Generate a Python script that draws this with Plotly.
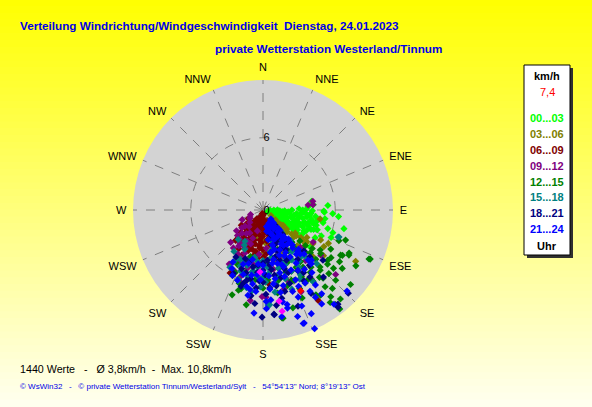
import plotly.graph_objects as go

# ---------------- data (direction in degrees, speed in km/h) ----------------
dir_labels = ["N", "NNE", "NE", "ENE", "E", "ESE", "SE", "SSE",
              "S", "SSW", "SW", "WSW", "W", "WNW", "NW", "NNW"]
dir_ticks = [0, 22.5, 45, 67.5, 90, 112.5, 135, 157.5,
             180, 202.5, 225, 247.5, 270, 292.5, 315, 337.5]
radial_ticks = [0, 6]
radial_max = 10.8

dir_00_03 = [92, 98, 105, 112, 118, 95, 101, 108, 115, 122, 90, 96, 103, 110, 117, 123,
             93, 99, 106, 113, 120, 91, 97, 104, 111, 89, 94, 100, 107, 114, 119, 102,
             109, 88, 96, 80, 84, 91, 95, 103, 99, 110, 86, 93, 106, 114, 98, 118, 125,
             112, 101, 96.5, 107, 104.6, 92, 102, 108, 86, 120, 128, 111, 119,
             90, 100, 110, 120, 93, 103, 116, 121, 97, 112, 106, 89, 101, 115, 124, 108, 95, 118,
             92, 97, 104, 109, 114, 119, 123, 100, 94, 106, 112, 117, 90, 99, 111]
spd_00_03 = [0.6, 0.9, 1.2, 0.8, 1.4, 1.6, 1.9, 2.1, 2.3, 1.8, 2.4, 2.8, 3.0, 3.2, 2.9, 2.6,
             3.4, 3.7, 3.9, 3.6, 3.3, 4.1, 4.4, 4.2, 4.5, 1.2, 2.1, 2.6, 1.5, 1.7, 2.2, 3.4,
             4.0, 3.0, 3.9, 4.1, 4.2, 5.05, 6.3, 6.9, 4.8, 4.8, 5.4, 5.8, 5.6, 5.3, 5.2, 4.9, 3.8,
             6.1, 4.6, 3.7, 3.66, 4.3, 5.1, 5.1, 6.1, 3.76, 3.85, 4.98, 0.4, 3.1,
             0.9, 0.5, 1.1, 0.9, 1.4, 1.6, 1.0, 2.8, 2.2, 2.7, 2.6, 3.6, 4.1, 4.0, 3.4, 3.5, 3.2, 1.9,
             1.8, 1.1, 2.4, 2.9, 3.2, 2.5, 3.0, 3.1, 4.0, 4.6, 4.3, 3.8, 3.3, 1.5, 1.9]

dir_03_06 = [125, 128, 130, 131, 132, 130, 128, 126, 126, 124, 117.5, 117, 99, 119, 122,
             135, 138, 140, 145, 150, 160, 170, 175, 185, 195, 200, 155, 165, 142, 133,
             121, 127, 136, 148, 158, 190, 213, 180, 125.7, 143, 128.7, 134, 129,
             133, 131, 127, 129, 133, 127, 140, 150, 165, 180]
spd_03_06 = [0.8, 1.3, 1.8, 2.3, 2.7, 3.1, 3.5, 3.9, 4.5, 5.0, 5.4, 6.1, 4.8, 8.8, 4.3,
             2.0, 1.2, 2.6, 3.3, 1.5, 2.2, 1.0, 2.8, 1.6, 2.4, 3.1, 3.8, 4.4, 4.8, 5.6,
             5.9, 6.3, 4.1, 2.0, 0.9, 0.7, 2.0, 3.6, 3.3, 3.3, 4.5, 1.5, 2.0,
             1.0, 1.5, 2.1, 2.5, 3.4, 4.1, 3.5, 2.8, 1.8, 2.4]

dir_06_09 = [175, 185, 195, 205, 215, 180, 190, 200, 210, 220, 170, 178, 188, 198, 208, 218,
             172, 183, 193, 203, 213, 225, 168, 180, 190, 200, 160, 155, 230, 218.8, 207.6,
             176, 148.6, 222, 186, 196, 165, 205, 212, 235, 240, 227, 197, 182, 192, 202, 174, 210,
             178, 188, 198, 208, 218, 183, 193, 203, 213, 223, 186, 196, 206, 175, 185, 195, 205,
             170, 215, 192, 176, 181, 186, 191, 196, 201, 188, 199, 207, 173, 179, 194]
spd_06_09 = [0.4, 0.6, 0.8, 0.7, 0.9, 1.1, 1.3, 1.4, 1.5, 1.6, 1.6, 1.9, 2.1, 2.2, 2.3, 2.4,
             2.5, 2.7, 2.9, 3.0, 3.1, 2.6, 3.0, 3.3, 3.5, 3.6, 1.0, 2.0, 1.8, 2.67, 5.9,
             6.1, 8.8, 3.4, 4.0, 4.3, 2.2, 4.1, 3.8, 2.2, 1.4, 1.5, 2.9, 1.2, 0.5, 1.9, 0.9, 2.8,
             0.8, 0.9, 1.0, 1.1, 1.2, 1.5, 1.7, 1.8, 2.0, 2.1, 2.5, 2.6, 2.7, 3.6, 3.2, 3.4, 3.3,
             2.0, 2.8, 0.3, 1.3, 2.2, 3.0, 3.8, 2.0, 2.5, 1.6, 3.2, 1.8, 2.6, 3.9, 1.1]

dir_09_12 = [237, 241.7, 215, 222, 204.7, 180.6, 80, 84, 83.7, 122.6, 131.6, 178, 161, 228, 232,
             210, 200, 195, 205, 212, 199, 218, 190, 185, 175, 170, 160, 150, 140, 155,
             165, 225, 245, 250, 197, 188, 145, 128, 135, 210, 227,
             205, 215, 225, 200, 210, 195, 220, 230, 205, 185, 207, 214, 219, 203, 196]
spd_09_12 = [1.3, 1.23, 3.35, 2.6, 4.37, 7.2, 4.2, 4.17, 3.77, 4.95, 8.07, 7.25, 6.17, 2.0, 2.8,
             2.2, 3.0, 1.8, 4.8, 5.3, 5.9, 4.0, 4.6, 3.7, 3.2, 5.0, 4.2, 3.8, 5.5, 7.5,
             6.8, 3.8, 1.9, 1.1, 6.3, 7.6, 7.0, 6.1, 4.4, 3.37, 1.5,
             3.5, 2.4, 3.0, 2.5, 4.2, 5.0, 1.8, 2.3, 5.6, 5.5, 2.9, 3.6, 3.1, 3.9, 4.5]

dir_12_15 = [117.7, 114.6, 126.4, 130.4, 142.2, 144, 146, 170, 197, 116.6, 114.8, 124, 119.7, 128,
             129.6, 138.5, 139, 141, 142, 142.5, 138.6, 136.5, 142.8, 147.8, 135, 140, 150, 155,
             160, 145, 130, 125, 120, 133, 150, 158, 165, 175, 185, 195, 205, 205, 198, 180,
             170, 148, 152, 138, 128, 112, 110, 121, 134, 156, 163, 190, 200, 120.2, 169.5,
             195.6, 204,
             130, 135, 140, 145, 150, 155, 140, 135, 145, 130, 125, 150, 160, 155, 148,
             132, 138, 144, 150, 156, 162, 168, 176, 186, 196, 127, 134]
spd_12_15 = [8.06, 9.8, 8.18, 9.55, 10.4, 9.5, 8.54, 9.1, 6.97, 8.0, 9.7, 7.67, 7.6, 6.8,
             7.6, 8.7, 9.8, 8.2, 9.15, 9.9, 7.55, 6.9, 6.5, 6.9, 5.0, 4.2, 5.5, 4.8,
             3.5, 3.0, 4.0, 5.8, 6.5, 6.0, 7.0, 6.3, 5.0, 4.5, 5.2, 4.0, 5.0, 6.0, 6.4, 6.5,
             7.0, 4.0, 2.5, 3.6, 5.2, 6.8, 7.3, 9.0, 8.4, 8.0, 8.5, 8.0, 7.5, 7.46, 9.15,
             6.8, 5.7,
             4.6, 5.6, 6.2, 5.8, 6.4, 5.6, 7.3, 6.7, 7.2, 7.0, 6.9, 4.5, 5.5, 7.2, 8.3,
             5.3, 4.8, 5.3, 5.9, 6.4, 6.6, 6.0, 5.8, 5.8, 5.4, 6.0, 7.6]

dir_15_18 = [109.6, 199.5, 176, 109.8, 209, 199.6, 177, 192.6, 171.7, 145, 150, 160, 170, 180,
             190, 200, 185, 165, 155, 145, 140, 145, 155, 205, 215, 188, 162, 152, 135, 138,
             210, 178, 140, 220, 188, 208, 140, 158,
             196, 210, 205, 190, 185, 180, 175, 170, 165, 160, 155, 150, 145, 140, 190, 200,
             170, 165, 160, 150,
             190, 182, 175, 196, 202, 186, 168, 158, 148, 138, 178, 192]
spd_15_18 = [6.7, 6.1, 7.9, 6.64, 4.78, 6.2, 7.9, 5.7, 6.9, 7.3, 3.0, 2.5, 3.5, 4.2,
             4.0, 4.5, 5.5, 5.0, 4.3, 5.2, 3.8, 1.8, 2.4, 3.6, 4.2, 6.8, 6.0, 6.5, 6.3, 3.4,
             5.5, 6.0, 1.3, 3.2, 5.2, 3.3, 2.4, 5.6,
             4.4, 3.0, 4.5, 4.0, 4.8, 5.6, 4.8, 4.0, 3.2, 4.6, 5.6, 4.8, 4.2, 5.0, 5.2, 5.4,
             6.3, 2.6, 7.0, 6.2,
             5.9, 6.4, 5.3, 4.8, 5.0, 4.3, 5.6, 4.9, 5.6, 5.2, 4.6, 6.6]

dir_18_21 = [180.5, 173.8, 141.5, 134.3, 142.3, 195, 140, 150, 160, 170, 180, 190, 200, 155,
             165, 150, 185, 195, 145, 135, 150, 160, 168, 178, 188, 205, 210, 130, 138, 155,
             165, 145, 185, 196, 172, 174,
             150, 155, 160, 165, 170, 175, 180, 185, 190, 195, 160, 170, 180, 145, 140, 135,
             150, 165, 175, 185, 155, 162, 172, 200, 160,
             141, 147, 159, 141, 153, 165, 142, 149, 161, 173, 183, 193, 178, 158, 147]
spd_18_21 = [8.9, 8.75, 10.0, 9.9, 10.2, 6.3, 4.5, 5.8, 6.5, 5.5, 5.0, 5.8, 5.2, 3.5,
             4.0, 1.4, 4.6, 4.5, 6.8, 5.5, 8.0, 8.5, 7.5, 7.0, 7.2, 5.8, 4.5, 6.5, 7.5, 2.2,
             2.0, 3.0, 6.5, 6.6, 8.0, 8.7,
             3.8, 4.6, 5.2, 5.8, 6.4, 4.2, 4.4, 5.2, 4.8, 5.4, 3.0, 3.6, 6.0, 5.0, 6.0, 4.8,
             6.8, 7.0, 6.5, 7.8, 2.8, 4.4, 5.0, 4.3, 1.8,
             1.6, 1.9, 1.3, 2.6, 2.6, 2.4, 3.3, 3.4, 3.6, 4.6, 5.9, 6.0, 5.4, 5.6, 6.2]

dir_21_24 = [160, 156.5, 165.7, 208, 134, 160.5, 166, 143, 140, 145, 150, 155, 160, 165, 170,
             175, 150, 185, 190, 145, 200, 150, 160, 170, 140, 160, 145, 155, 165, 175, 185,
             190, 140, 137, 142, 150, 158, 168, 178, 205, 210, 200, 138, 148, 162, 172, 182,
             192, 152, 142, 139, 138, 138, 145, 136, 170, 162, 155, 148, 185, 189.3, 149, 192,
             145, 150, 155, 160, 165, 170, 175, 180, 155, 142, 195, 155, 160, 165, 170, 165,
             180, 185, 140, 150, 160, 170, 140, 150, 145, 158, 168, 178, 188, 197,
             139, 141, 144, 150, 156, 162, 168, 141, 146, 158, 142, 148, 164, 140, 152, 168,
             140, 157, 143, 161]
spd_21_24 = [10.0, 10.75, 8.1, 5.5, 9.7, 10.0, 8.4, 9.8, 2.0, 3.5, 4.5, 5.5, 4.0, 3.0, 4.5,
             5.5, 1.2, 4.5, 5.5, 1.6, 4.8, 2.5, 1.5, 2.5, 2.2, 2.2, 6.0, 7.0, 6.5, 7.5, 6.8,
             7.2, 4.5, 5.0, 6.6, 7.8, 8.6, 7.8, 8.2, 6.0, 5.0, 6.2, 6.0, 5.2, 5.8, 6.2, 5.8,
             4.2, 3.2, 4.0, 3.2, 4.4, 5.6, 8.5, 5.8, 9.0, 9.3, 9.5, 9.2, 8.6, 6.7, 8.45, 6.5,
             2.6, 3.4, 4.2, 5.0, 5.4, 5.8, 6.6, 5.2, 1.5, 2.8, 4.6, 6.4, 7.2, 4.6, 3.6, 1.6,
             4.6, 5.4, 4.8, 5.8, 2.6, 1.8, 1.0, 7.0, 7.6, 7.8, 7.0, 7.6, 6.2, 5.6,
             1.0, 1.4, 1.1, 1.8, 1.2, 2.0, 1.4, 2.0, 2.2, 2.6, 3.0, 3.0, 3.4, 3.8, 4.0, 4.2,
             3.6, 3.6, 4.6, 4.8]

dir_gust = [182.8, 170, 169.3]
spd_gust = [5.15, 7.7, 8.56]
dir_current = [155]
spd_current = [7.4]

group_labels = ["00...03", "03...06", "06...09", "09...12", "12...15", "15...18", "18...21", "21...24"]
group_colors = ["#00FF00", "#808000", "#800000", "#800080", "#008000", "#008080", "#000080", "#0000FF"]
group_dirs = [dir_00_03, dir_03_06, dir_06_09, dir_09_12, dir_12_15, dir_15_18, dir_18_21, dir_21_24]
group_spds = [spd_00_03, spd_03_06, spd_06_09, spd_09_12, spd_12_15, spd_15_18, spd_18_21, spd_21_24]

current_text = "7,4"
title1 = "Verteilung Windrichtung/Windgeschwindigkeit\u00a0\u00a0Dienstag, 24.01.2023"
title2 = "private Wetterstation Westerland/Tinnum"
stats_text = "1440 Werte\u00a0\u00a0\u00a0-\u00a0\u00a0\u00a0Ø 3,8km/h\u00a0\u00a0-\u00a0\u00a0Max. 10,8km/h"
footer_text = ("© WsWin32\u00a0\u00a0\u00a0-\u00a0\u00a0\u00a0© private Wetterstation Tinnum/Westerland/Sylt"
               "\u00a0\u00a0\u00a0-\u00a0\u00a0\u00a054°54'13\" Nord; 8°19'13\" Ost")

# ---------------- figure ----------------
W, H = 592, 407
cx, cy, R = 263, 210, 130
FONT = "Liberation Sans, Arial, sans-serif"

fig = go.Figure()
marker_size = 5.5
for d, s, c in zip(group_dirs, group_spds, group_colors):
    fig.add_trace(go.Scatterpolar(theta=d, r=s, mode="markers",
                                  marker=dict(symbol="diamond", size=marker_size, color=c, line=dict(width=0)),
                                  hoverinfo="skip", showlegend=False))
fig.add_trace(go.Scatterpolar(theta=dir_gust, r=spd_gust, mode="markers",
                              marker=dict(symbol="diamond", size=marker_size, color="#FF00FF", line=dict(width=0)),
                              hoverinfo="skip", showlegend=False))
fig.add_trace(go.Scatterpolar(theta=dir_current, r=spd_current, mode="markers",
                              marker=dict(symbol="diamond", size=marker_size, color="#FF0000", line=dict(width=0)),
                              hoverinfo="skip", showlegend=False))

# background gradient (yellow -> pale yellow)
shapes = []
n_strips = 60
for i in range(n_strips):
    t = (i + 0.5) / n_strips
    b = int(round(0 + 240 * t))
    shapes.append(dict(type="rect", xref="paper", yref="paper", x0=0, x1=1,
                       y0=1 - (i + 1) / n_strips, y1=1 - i / n_strips + 0.002,
                       fillcolor=f"rgb(255,255,{b})", line=dict(width=0), layer="below"))

# legend box (shadow + white box)
bx0, by0, bx1, by1 = 524, 65, 570, 255
shapes.append(dict(type="rect", xref="paper", yref="paper",
                   x0=(bx0 + 3) / W, x1=(bx1 + 3) / W, y0=1 - (by1 + 3) / H, y1=1 - (by0 + 3) / H,
                   fillcolor="#303030", line=dict(width=0)))
shapes.append(dict(type="rect", xref="paper", yref="paper",
                   x0=bx0 / W, x1=bx1 / W, y0=1 - by1 / H, y1=1 - by0 / H,
                   fillcolor="white", line=dict(width=1, color="black")))

annotations = []


def ann(text, px, py, size, color, bold=False, anchor="left"):
    annotations.append(dict(text=f"<b>{text}</b>" if bold else text, xref="paper", yref="paper",
                            x=px / W, y=1 - py / H, xanchor=anchor, yanchor="middle",
                            showarrow=False, font=dict(family=FONT, size=size, color=color)))


ann(title1, 18, 25, 11.7, "#0000E6", bold=True)
ann(title2, 213, 49, 11.7, "#0000E6", bold=True)
ann(stats_text, 18, 369, 10.7, "black")
ann(footer_text, 18, 386, 8, "#0000E6")

lx = (bx0 + bx1) / 2
ann("km/h", lx, 76, 11, "black", bold=True, anchor="center")
ann(current_text, lx, 92, 11, "#FF0000", anchor="center")
legend_y = [118, 134, 150, 166, 182, 197, 213, 229]
for lab, col, yy in zip(group_labels, group_colors, legend_y):
    ann(lab, lx, yy, 11, col, bold=True, anchor="center")
ann("Uhr", lx, 246, 11, "black", bold=True, anchor="center")

fig.update_layout(
    width=W, height=H, margin=dict(l=0, r=0, t=0, b=0),
    paper_bgcolor="#FFFF80", showlegend=False,
    shapes=shapes, annotations=annotations,
    polar=dict(
        domain=dict(x=[(cx - R) / W, (cx + R) / W], y=[1 - (cy + R) / H, 1 - (cy - R) / H]),
        bgcolor="#D3D3D3",
        angularaxis=dict(rotation=90, direction="clockwise", tickmode="array",
                         tickvals=dir_ticks, ticktext=dir_labels, showline=False,
                         ticks="outside", ticklen=4, tickcolor="rgba(0,0,0,0)",
                         gridcolor="#7F7F7F", griddash="dash", gridwidth=1,
                         tickfont=dict(family=FONT, size=11, color="black")),
        radialaxis=dict(range=[0, radial_max], tickmode="array", tickvals=radial_ticks,
                        ticktext=[str(v) for v in radial_ticks], angle=90, tickangle=90,
                        showline=False, ticks="", gridcolor="#7F7F7F", griddash="dash",
                        gridwidth=1, side="clockwise",
                        tickfont=dict(family=FONT, size=11, color="black")),
    ),
)

fig.write_html("out.html", config={"displayModeBar": False},
               post_script="document.body.style.margin='0';")
